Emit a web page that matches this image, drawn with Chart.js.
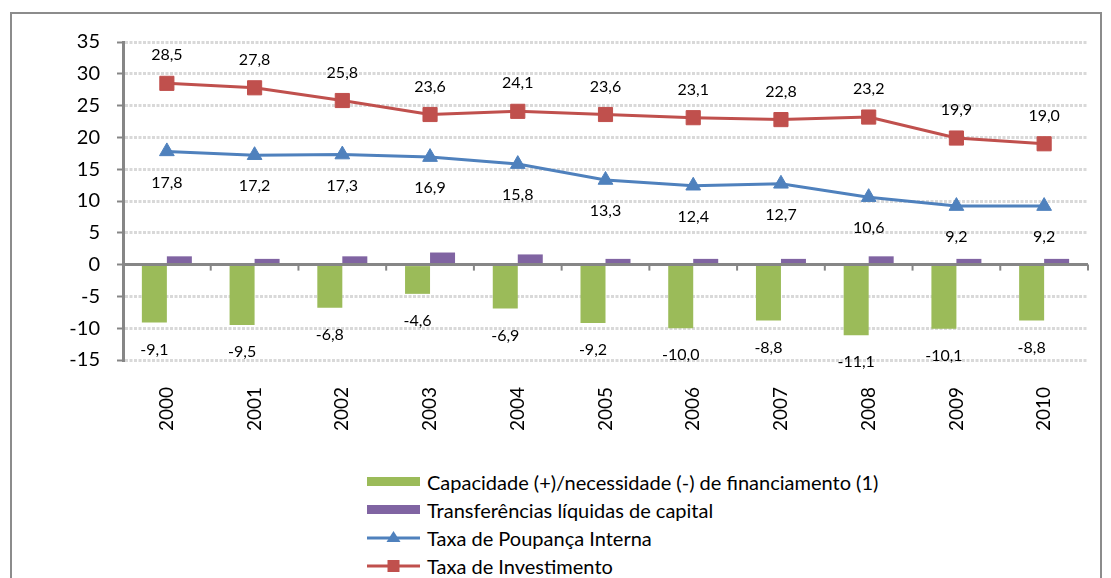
<!DOCTYPE html>
<html lang="pt">
<head>
  <meta charset="UTF-8" />
  <title>Taxas de poupança e investimento</title>
  <script src="https://cdn.jsdelivr.net/npm/chart.js"></script>
  <style>
    body {
      margin: 0;
      width: 1111px;
      height: 578px;
      overflow: hidden;
      background: #fff;
      font-family: Lato, 'Noto Sans', sans-serif;
      position: relative;
    }
    .moldura {
      position: absolute;
      left: 10px;
      top: 12px;
      width: 1088px;
      height: 620px;
      border: 2px solid #8c8c8c;
      border-bottom: none;
    }
    .grafico {
      position: absolute;
      left: 0;
      top: 0;
      width: 1111px;
      height: 460px;
    }
    #legenda {
      position: absolute;
      left: 367px;
      top: 468px;
      font-size: 20px;
      color: #000;
    }
    .item {
      display: flex;
      align-items: center;
      height: 28px;
    }
    .item svg {
      margin-right: 7px;
    }
  </style>
</head>
<body>
  <div class="moldura"></div>
  <div class="grafico"><canvas id="grafica"></canvas></div>
  <div id="legenda"></div>

  <script>
    const anos = ['2000', '2001', '2002', '2003', '2004', '2005', '2006', '2007', '2008', '2009', '2010'];
    const capacidade = [-9.1, -9.5, -6.8, -4.6, -6.9, -9.2, -10.0, -8.8, -11.1, -10.1, -8.8];
    const transferencias = [1.3, 0.9, 1.3, 1.9, 1.6, 0.9, 0.9, 0.9, 1.3, 0.9, 0.9];
    const poupanca = [17.8, 17.2, 17.3, 16.9, 15.8, 13.3, 12.4, 12.7, 10.6, 9.2, 9.2];
    const investimento = [28.5, 27.8, 25.8, 23.6, 24.1, 23.6, 23.1, 22.8, 23.2, 19.9, 19.0];
    const yMin = -15, yMax = 35, yPasso = 5;

    const cinza = '#868686';

    // rótulos de dados (vírgula decimal)
    const rotulos = {
      id: 'rotulos',
      afterDatasetsDraw(chart) {
        const ctx = chart.ctx;
        ctx.save();
        ctx.font = '16px Lato';
        ctx.fillStyle = '#000';
        ctx.textAlign = 'center';
        ctx.textBaseline = 'middle';
        [[0, 27], [2, 31], [3, -28]].forEach(([i, dy]) => {
          const meta = chart.getDatasetMeta(i);
          meta.data.forEach((el, j) => {
            const v = chart.data.datasets[i].data[j];
            ctx.fillText(v.toFixed(1).replace('.', ','), el.x, el.y + dy);
          });
        });
        ctx.restore();
      }
    };

    // marcas do eixo das categorias sobre a linha do zero
    const marcasZero = {
      id: 'marcasZero',
      afterDatasetsDraw(chart) {
        const ctx = chart.ctx;
        const x = chart.scales.x, y = chart.scales.y;
        const y0 = y.getPixelForValue(0);
        ctx.save();
        ctx.strokeStyle = cinza;
        ctx.lineWidth = 3;
        ctx.beginPath();
        ctx.moveTo(chart.chartArea.left, y0);
        ctx.lineTo(chart.chartArea.right, y0);
        ctx.stroke();
        ctx.lineWidth = 2;
        for (let i = 1; i <= anos.length; i++) {
          const px = i < anos.length
            ? (x.getPixelForValue(i - 1) + x.getPixelForValue(i)) / 2
            : chart.chartArea.right;
          ctx.beginPath();
          ctx.moveTo(px, y0);
          ctx.lineTo(px, y0 + 6);
          ctx.stroke();
        }
        ctx.restore();
      }
    };

    const config = {
      type: 'bar',
      data: {
        labels: anos,
        datasets: [{
          label: 'Capacidade (+)/necessidade (-) de financiamento (1)',
          data: capacidade,
          backgroundColor: '#9BBB59',
          order: 1
        }, {
          label: 'Transferências líquidas de capital',
          data: transferencias,
          backgroundColor: '#8064A2',
          order: 1
        }, {
          type: 'line',
          label: 'Taxa de Poupança Interna',
          data: poupanca,
          borderColor: '#4F81BD',
          backgroundColor: '#4F81BD',
          borderWidth: 3,
          pointStyle: 'triangle',
          pointRadius: 8.5,
          pointBorderWidth: 1,
          order: 0
        }, {
          type: 'line',
          label: 'Taxa de Investimento',
          data: investimento,
          borderColor: '#C0504D',
          backgroundColor: '#C0504D',
          borderWidth: 3,
          pointStyle: 'rect',
          pointRadius: 10,
          pointBorderWidth: 1,
          order: 0
        }]
      },
      options: {
        responsive: true,
        maintainAspectRatio: false,
        animation: false,
        layout: {
          padding: { left: 0, top: 42, right: 23, bottom: 0 }
        },
        datasets: {
          bar: { categoryPercentage: 0.57, barPercentage: 1 }
        },
        plugins: {
          legend: { display: false },
          tooltip: { enabled: false }
        },
        scales: {
          x: {
            grid: { display: false },
            border: { display: false },
            ticks: {
              color: '#000',
              font: { family: 'Lato', size: 19 },
              maxRotation: 90,
              minRotation: 90,
              padding: 19
            },
            afterFit(scale) { scale.height = 100; }
          },
          y: {
            min: yMin,
            max: yMax,
            ticks: {
              stepSize: yPasso,
              color: '#000',
              font: { family: 'Lato', size: 20 },
              padding: 17
            },
            grid: {
              color: '#d9d9d9',
              lineWidth: 3,
              tickLength: 6,
              tickColor: cinza,
              tickWidth: 2
            },
            border: {
              color: cinza,
              width: 3,
              dash: ctx => (ctx.tick ? [3, 1.5] : [])
            },
            afterFit(scale) { scale.width = 123; }
          }
        }
      },
      plugins: [rotulos, marcasZero]
    };

    const ctx = document.getElementById('grafica').getContext('2d');
    window.miGrafica = new Chart(ctx, config);

    // legenda em HTML, uma entrada por linha
    const legenda = document.getElementById('legenda');
    config.data.datasets.forEach(ds => {
      const cor = ds.backgroundColor;
      let icone;
      if (!ds.type) {
        icone = `<rect x="0" y="6" width="53" height="9" fill="${cor}"/>`;
      } else if (ds.pointStyle === 'triangle') {
        icone = `<line x1="0" y1="11" x2="53" y2="11" stroke="${cor}" stroke-width="3"/>` +
                `<polygon points="26.5,4 33.5,15 19.5,15" fill="${cor}"/>`;
      } else {
        icone = `<line x1="0" y1="11" x2="53" y2="11" stroke="${cor}" stroke-width="3"/>` +
                `<rect x="20.5" y="5" width="12" height="12" fill="${cor}"/>`;
      }
      const item = document.createElement('div');
      item.className = 'item';
      item.innerHTML = `<svg width="53" height="22">${icone}</svg><span>${ds.label}</span>`;
      legenda.appendChild(item);
    });
  </script>
</body>
</html>
